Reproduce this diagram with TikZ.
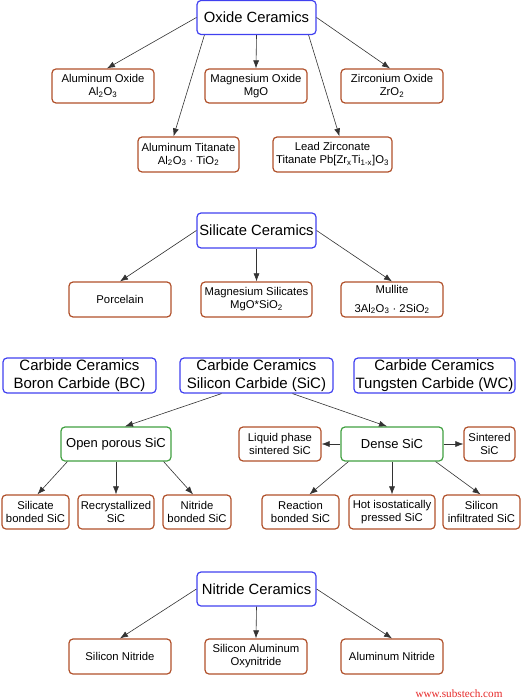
\documentclass[tikz,border=0pt]{standalone}
\usepackage{fontspec}
\setmainfont{Liberation Sans}
\newfontfamily\webfont{Liberation Serif}
\usetikzlibrary{shapes, calc, arrows.meta, positioning}

\definecolor{mainblue}{RGB}{64,64,240}
\definecolor{leafbrown}{RGB}{176,80,42}
\definecolor{subgreen}{RGB}{64,160,64}
\definecolor{webred}{RGB}{230,40,40}

\begin{document}
\begin{tikzpicture}[x=1pt,y=-1pt,->,>={Latex[length=8pt,width=6pt]},semithick]
	\tikzset{
		every node/.style={align=center, inner sep=0pt, rounded corners=4pt, line width=1.2pt},
		group/.style={draw=mainblue, minimum width=119pt, minimum height=34pt, font=\fontsize{14.8}{17}\selectfont},
		carbide/.style={draw=mainblue, minimum width=153pt, minimum height=35pt, font=\fontsize{15}{18}\selectfont},
		kind/.style={draw=subgreen, minimum width=110pt, minimum height=34pt, font=\fontsize{13}{15}\selectfont},
		leaf/.style={draw=leafbrown, minimum width=102pt, minimum height=34pt, font=\fontsize{11.3}{13}\selectfont},
		every edge/.style={draw=black!80, line width=0.6pt}
	}
	\useasboundingbox (0,0) rectangle (521,700);
	% oxide ceramics
	\node[group] (oxide) at (256.5,17.5) {Oxide Ceramics};
	\node[leaf] (alox) at (103,86) {Aluminum Oxide\\Al\textsubscript{2}O\textsubscript{3}};
	\node[leaf] (mgo) at (256,86) {Magnesium Oxide\\MgO};
	\node[leaf] (zro) at (392,86) {Zirconium Oxide\\ZrO\textsubscript{2}};
	\node[leaf, minimum width=101pt, minimum height=35pt] (altit) at (188.5,154.5) {Aluminum Titanate\\Al\textsubscript{2}O\textsubscript{3} · TiO\textsubscript{2}};
	\node[leaf, minimum width=119pt, minimum height=35pt] (pzt) at (332.5,154.5) {Lead Zirconate\\Titanate Pb[Zr\textsubscript{x}Ti\textsubscript{1-x}]O\textsubscript{3}};
	% silicate ceramics
	\node[group, minimum height=35pt] (silicate) at (256.5,230.5) {Silicate Ceramics};
	\node[leaf, minimum height=35pt] (porc) at (120,299.5) {Porcelain};
	\node[leaf, minimum width=111pt, minimum height=35pt] (mgsil) at (256.5,299.5) {Magnesium Silicates\\MgO*SiO\textsubscript{2}};
	\node[leaf, minimum height=35pt] (mull) at (392,299.5) {Mullite\\[6pt]3Al\textsubscript{2}O\textsubscript{3} · 2SiO\textsubscript{2}};
	% carbide ceramics
	\node[carbide] (bc) at (79.5,375.5) {Carbide Ceramics\\Boron Carbide (BC)};
	\node[carbide] (sic) at (256.5,375.5) {Carbide Ceramics\\Silicon Carbide (SiC)};
	\node[carbide, minimum width=161pt] (wc) at (434.5,375.5) {Carbide Ceramics\\Tungsten Carbide (WC)};
	\node[kind] (porous) at (116,444) {Open porous SiC};
	\node[kind, minimum width=102pt] (dense) at (392,444) {Dense SiC};
	\node[leaf, minimum width=82pt] (liquid) at (280,444) {Liquid phase\\sintered SiC};
	\node[leaf, minimum width=51pt] (sint) at (489.5,444) {Sintered\\SiC};
	\node[leaf, minimum width=67pt] (sbond) at (35.5,512) {Silicate\\bonded SiC};
	\node[leaf, minimum width=76pt] (recr) at (116,512) {Recrystallized\\SiC};
	\node[leaf, minimum width=68pt] (nbond) at (197,512) {Nitride\\bonded SiC};
	\node[leaf, minimum width=77pt] (rbond) at (300.5,512) {Reaction\\bonded SiC};
	\node[leaf, minimum width=86pt] (hip) at (392,512) {Hot isostatically\\pressed SiC};
	\node[leaf, minimum width=77pt] (sinf) at (481.5,512) {Silicon\\infiltrated SiC};
	% nitride ceramics
	\node[group] (nitride) at (256.5,589) {Nitride Ceramics};
	\node[leaf, minimum height=35pt] (sin) at (120,656.5) {Silicon Nitride};
	\node[leaf, minimum height=35pt] (sialon) at (256,656.5) {Silicon Aluminum\\Oxynitride};
	\node[leaf, minimum height=35pt] (aln) at (392,656.5) {Aluminum Nitride};
	\node[text=webred, font=\webfont\fontsize{11.2}{13}\selectfont] (web) at (459,694) {www.substech.com};
	\path
		(oxide.west) edge ([xshift=4pt]alox.north)
		([xshift=8pt]oxide.south west) edge ([xshift=-15pt]altit.north)
		(oxide.south) edge (mgo.north)
		([xshift=-8pt]oxide.south east) edge ([xshift=7pt]pzt.north)
		(oxide.east) edge ([xshift=-2pt]zro.north)
		(silicate.west) edge (porc.north)
		(silicate.south) edge (mgsil.north)
		(silicate.east) edge (mull.north)
		([xshift=-35pt]sic.south) edge ([xshift=9pt]porous.north)
		([xshift=36pt]sic.south) edge ([xshift=-5pt]dense.north)
		(dense.west) edge (liquid.east)
		(dense.east) edge (sint.west)
		([xshift=7pt]porous.south west) edge ([xshift=2pt]sbond.north)
		(porous.south) edge (recr.north)
		([xshift=-8pt]porous.south east) edge ([xshift=-4pt]nbond.north)
		([xshift=8pt]dense.south west) edge ([xshift=9pt]rbond.north)
		(dense.south) edge (hip.north)
		([xshift=-8pt]dense.south east) edge ([xshift=-1pt]sinf.north)
		(nitride.west) edge (sin.north)
		(nitride.south) edge (sialon.north)
		(nitride.east) edge (aln.north);
\end{tikzpicture}
\end{document}
